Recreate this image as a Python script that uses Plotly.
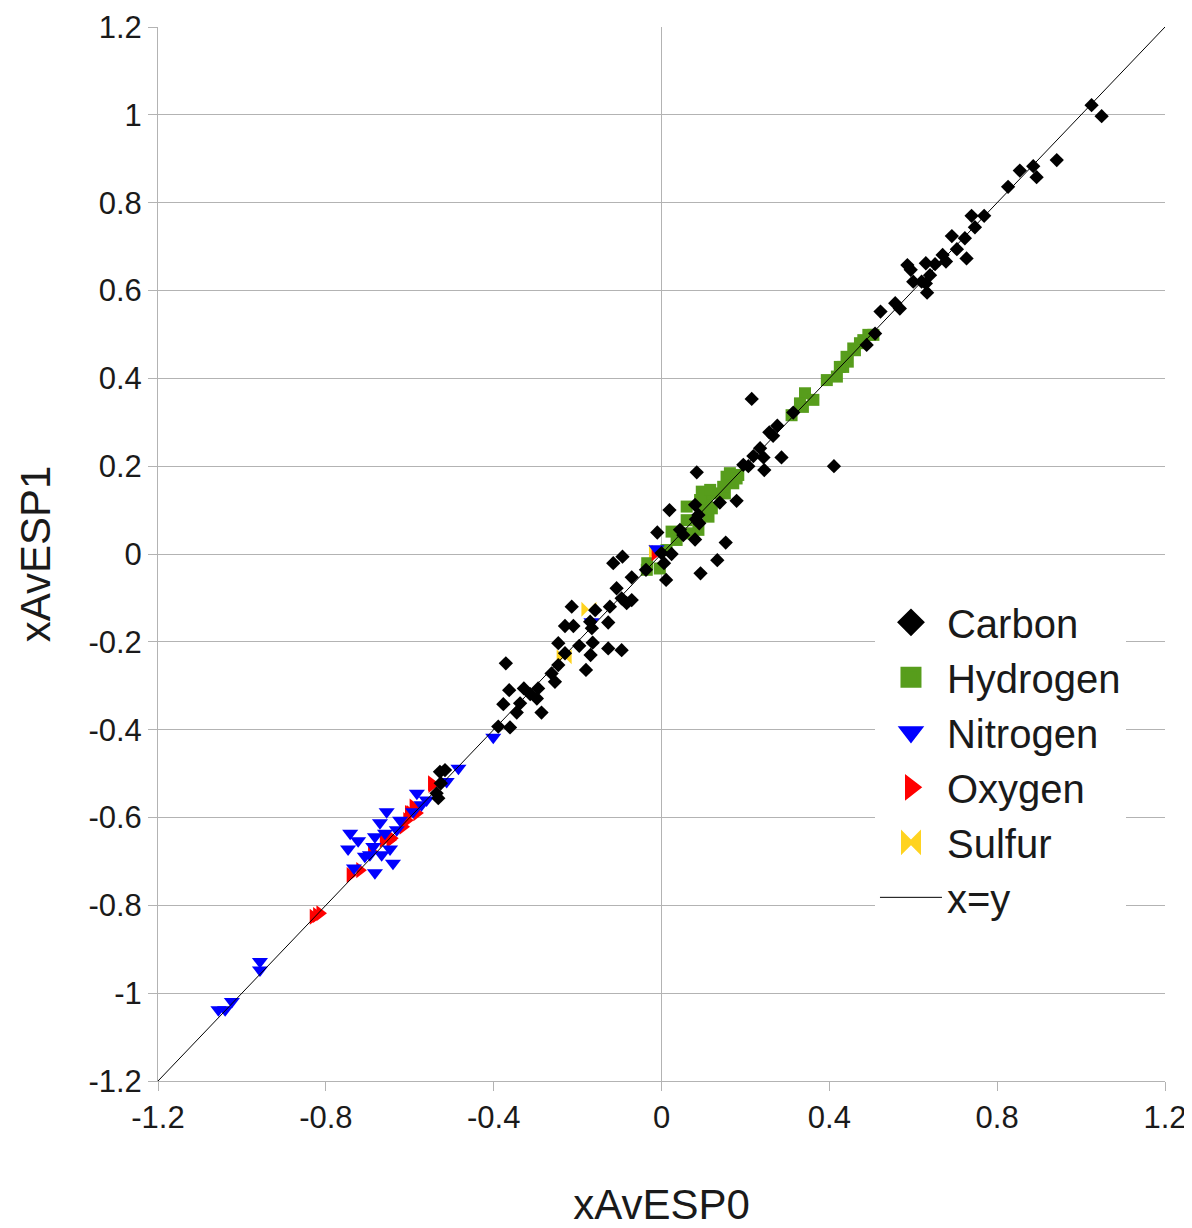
import plotly.graph_objects as go

# ---------------- data ----------------
carbon_x = [1.025, 1.049, 0.942, 0.886, 0.894, 0.854, 0.826, 0.739, 0.769, 0.747, 0.692, 0.723, 0.704, 0.727,
            0.670, 0.678, 0.652, 0.630, 0.586, 0.594, 0.640, 0.600, 0.620, 0.630, 0.633, 0.522, 0.557, 0.568,
            0.509, 0.489,
            0.215, 0.314, 0.276, 0.257, 0.266, 0.235, 0.219, 0.243, 0.286, 0.195, 0.207, 0.245, 0.411, 0.084,
            0.139, 0.179, 0.019, 0.080, 0.088, 0.082, 0.090, 0.044, 0.052, -0.010, 0.080, 0.153, 0.024, 0.000,
            0.006, -0.037, 0.011, 0.093, 0.133,
            -0.093, -0.115, -0.071, -0.107, -0.095, -0.071, -0.123, -0.083, -0.214, -0.158, -0.127, -0.170,
            -0.230, -0.210, -0.166, -0.246, -0.196, -0.164, -0.127, -0.095, -0.169, -0.230, -0.246, -0.180,
            -0.371, -0.262, -0.254, -0.363, -0.328, -0.294, -0.313, -0.297, -0.377, -0.337, -0.345, -0.286,
            -0.389, -0.361,
            -0.528, -0.516, -0.526, -0.536, -0.532]
carbon_y = [1.022, 0.997, 0.897, 0.883, 0.858, 0.873, 0.836, 0.770, 0.770, 0.744, 0.724, 0.719, 0.694, 0.673,
            0.681, 0.666, 0.660, 0.662, 0.658, 0.647, 0.635, 0.620, 0.620, 0.616, 0.595, 0.552, 0.571, 0.559,
            0.502, 0.476,
            0.353, 0.322, 0.292, 0.277, 0.269, 0.241, 0.223, 0.220, 0.220, 0.203, 0.200, 0.191, 0.200, 0.186,
            0.117, 0.121, 0.100, 0.112, 0.089, 0.079, 0.070, 0.055, 0.043, 0.049, 0.033, 0.026, 0.000, 0.002,
            -0.021, -0.036, -0.059, -0.044, -0.014,
            -0.006, -0.021, -0.053, -0.078, -0.101, -0.105, -0.120, -0.112, -0.120, -0.128, -0.156, -0.154,
            -0.164, -0.164, -0.169, -0.203, -0.209, -0.202, -0.215, -0.219, -0.230, -0.226, -0.253, -0.264,
            -0.249, -0.272, -0.291, -0.310, -0.306, -0.306, -0.319, -0.329, -0.342, -0.340, -0.361, -0.361,
            -0.393, -0.395,
            -0.496, -0.492, -0.522, -0.545, -0.556]

hydrogen_x = [-0.034, -0.035, -0.004, 0.012, 0.024, 0.036, 0.060, 0.060, 0.068, 0.096, 0.108, 0.112, 0.123,
              0.151, 0.155, 0.171, 0.183, 0.147, 0.092, 0.120, 0.163, 0.179, 0.116, 0.104, 0.088,
              0.310, 0.342, 0.362, 0.330, 0.337, 0.394, 0.418, 0.433, 0.444, 0.425, 0.441, 0.457, 0.461,
              0.473, 0.481, 0.493, 0.505]
hydrogen_y = [-0.021, -0.036, -0.033, 0.009, 0.051, 0.032, 0.108, 0.077, 0.047, 0.142, 0.123, 0.085, 0.138,
              0.138, 0.176, 0.161, 0.180, 0.153, 0.123, 0.104, 0.184, 0.172, 0.146, 0.100, 0.055,
              0.316, 0.366, 0.351, 0.343, 0.335, 0.396, 0.404, 0.426, 0.438, 0.426, 0.449, 0.468, 0.464,
              0.480, 0.487, 0.499, 0.499]

nitrogen_x = [-0.583, -0.655, -0.671, -0.623, -0.742, -0.723, -0.747, -0.683, -0.659, -0.687, -0.707, -0.667,
              -0.647, -0.640, -0.683, -0.733, -0.631, -0.592, -0.572, -0.560, -0.695,
              -0.957, -0.957, -1.056, -1.040, -1.024, -0.401, -0.484, -0.512, -0.167, -0.012]
nitrogen_y = [-0.545, -0.587, -0.612, -0.606, -0.636, -0.653, -0.672, -0.644, -0.636, -0.666, -0.688, -0.685,
              -0.672, -0.704, -0.726, -0.715, -0.628, -0.587, -0.571, -0.560, -0.685,
              -0.928, -0.947, -1.038, -1.038, -1.019, -0.417, -0.488, -0.518, -0.154, 0.012]

oxygen_x = [-0.822, -0.814, -0.830, -0.742, -0.719, -0.647, -0.663, -0.607, -0.599, -0.583, -0.616, -0.547,
            -0.691, -0.548, -0.592, -0.603, -0.643, -0.015]
oxygen_y = [-0.822, -0.818, -0.826, -0.731, -0.720, -0.651, -0.651, -0.606, -0.590, -0.590, -0.621, -0.526,
            -0.678, -0.522, -0.575, -0.590, -0.647, 0.002]

sulfur_x = [-0.173, -0.232, -0.012]
sulfur_y = [-0.126, -0.234, 0.005]

diag_x = [-1.2, 1.2]
diag_y = [-1.2, 1.2]

x_tickvals = [-1.2, -0.8, -0.4, 0, 0.4, 0.8, 1.2]
x_ticktext = ["-1.2", "-0.8", "-0.4", "0", "0.4", "0.8", "1.2"]
y_tickvals = [-1.2, -1.0, -0.8, -0.6, -0.4, -0.2, 0, 0.2, 0.4, 0.6, 0.8, 1.0, 1.2]
y_ticktext = ["-1.2", "-1", "-0.8", "-0.6", "-0.4", "-0.2", "0", "0.2", "0.4", "0.6", "0.8", "1", "1.2"]

# ---------------- styles ----------------
FONT = "Liberation Sans, Arial, sans-serif"
GRID = "#b3b3b3"
C_CARBON = "#000000"
C_HYDROGEN = "#579d1c"
C_NITROGEN = "#0000ff"
C_OXYGEN = "#ff0000"
C_SULFUR = "#ffd320"

series = [
    ("Carbon", carbon_x, carbon_y, "diamond", C_CARBON, 11, 5),
    ("Hydrogen", hydrogen_x, hydrogen_y, "square", C_HYDROGEN, 12, 5),
    ("Nitrogen", nitrogen_x, nitrogen_y, "triangle-down", C_NITROGEN, 14, 4),
    ("Oxygen", oxygen_x, oxygen_y, "triangle-right", C_OXYGEN, 14, 4),
    ("Sulfur", sulfur_x, sulfur_y, "bowtie", C_SULFUR, 15, 4),
]

fig = go.Figure()

# legend-only entries (bigger symbols, as in the original legend)
for name, _, _, sym, col, _, lw in series:
    fig.add_trace(go.Scatter(
        x=[None], y=[None], mode="markers", name=name,
        marker=dict(symbol=sym, color=col, size=16, line=dict(color=col, width=lw)),
        showlegend=True, hoverinfo="skip"))

# actual data (draw order: sulfur, hydrogen, oxygen, nitrogen, carbon)
draw_order = ["Sulfur", "Hydrogen", "Oxygen", "Nitrogen", "Carbon"]
lookup = {s[0]: s for s in series}
for nm in draw_order:
    name, xs, ys, sym, col, sz, _ = lookup[nm]
    fig.add_trace(go.Scatter(
        x=xs, y=ys, mode="markers", name=name, showlegend=False,
        marker=dict(symbol=sym, color=col, size=sz, line=dict(width=0))))

fig.add_trace(go.Scatter(
    x=diag_x, y=diag_y, mode="lines", name="x=y",
    line=dict(color="black", width=1), showlegend=True))

# page body has an 8px margin, so the figure is 8px smaller and shifted
fig.update_layout(
    width=1184, height=1220,
    paper_bgcolor="white", plot_bgcolor="white",
    margin=dict(l=150, r=27, t=19, b=147),
    font=dict(family=FONT, color="#1a1a1a"),
    legend=dict(
        x=0.712, y=0.466, xanchor="left", yanchor="top",
        bgcolor="white", borderwidth=0,
        font=dict(family=FONT, size=40, color="#1a1a1a"),
        itemwidth=62, tracegroupgap=0,
    ),
    xaxis=dict(
        range=[-1.2, 1.2], tickmode="array", tickvals=x_tickvals, ticktext=x_ticktext,
        showgrid=False, zeroline=True, zerolinecolor=GRID, zerolinewidth=1,
        showline=True, linecolor=GRID, linewidth=1,
        ticks="outside", ticklen=9, tickcolor=GRID, tickwidth=1,
        tickfont=dict(family=FONT, size=31, color="#1a1a1a"),
        title=dict(text="xAvESP0", font=dict(family=FONT, size=42, color="#1a1a1a"), standoff=60),
        automargin=False,
    ),
    yaxis=dict(
        range=[-1.2, 1.2], tickmode="array", tickvals=y_tickvals, ticktext=y_ticktext,
        showgrid=True, gridcolor=GRID, gridwidth=1,
        zeroline=True, zerolinecolor=GRID, zerolinewidth=1,
        showline=True, linecolor=GRID, linewidth=1,
        ticks="outside", ticklen=9, tickcolor=GRID, tickwidth=1,
        tickfont=dict(family=FONT, size=31, color="#1a1a1a"),
        title=dict(text="xAvESP1", font=dict(family=FONT, size=42, color="#1a1a1a"), standoff=24),
        automargin=False,
    ),
)

fig.write_html("out.html")
